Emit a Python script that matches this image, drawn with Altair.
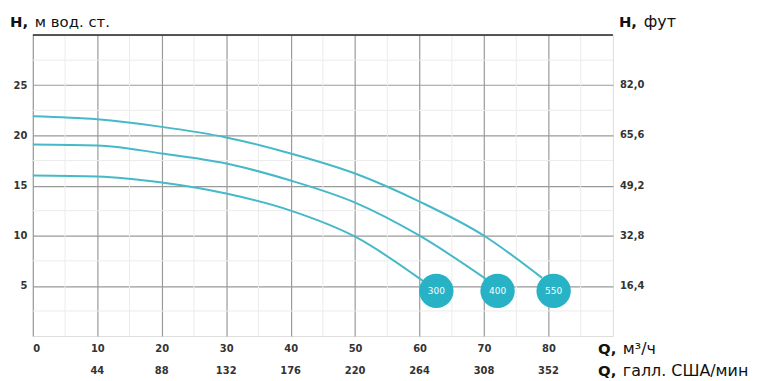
import altair as alt
import pandas as pd

# ---- data ----
q_ticks = [0, 10, 20, 30, 40, 50, 60, 70, 80]
gal_ticks = [10, 20, 30, 40, 50, 60, 70, 80]
gal_labels = ["44", "88", "132", "176", "220", "264", "308", "352"]
h_ticks = [5, 10, 15, 20, 25]
ft_labels = ["16,4", "32,8", "49,2", "65,6", "82,0"]
minor_q = [5, 15, 25, 35, 45, 55, 65, 75, 85]
minor_h = [2.5, 7.5, 12.5, 17.5, 22.5, 27.5]

q_550 = [0, 10, 20, 30, 40, 50, 60, 70, 79]
h_550 = [21.9, 21.6, 20.85, 19.8, 18.2, 16.2, 13.4, 10.0, 5.8]
q_400 = [0, 10, 20, 30, 40, 50, 60, 70.5]
h_400 = [19.1, 19.0, 18.2, 17.2, 15.5, 13.3, 10.0, 5.6]
q_300 = [0, 10, 20, 30, 40, 50, 60.5]
h_300 = [16.0, 15.9, 15.3, 14.2, 12.5, 9.9, 5.5]

badge_q = [62.6, 72.1, 80.8]
badge_h = [4.5, 4.5, 4.5]
badge_text = ["300", "400", "550"]

LINE = "#45b9c8"
BADGE = "#28b2c6"

curves = pd.concat([
    pd.DataFrame({"Q": q_550, "H": h_550, "model": "550"}),
    pd.DataFrame({"Q": q_400, "H": h_400, "model": "400"}),
    pd.DataFrame({"Q": q_300, "H": h_300, "model": "300"}),
])
badges = pd.DataFrame({"Q": badge_q, "H": badge_h, "t": badge_text})
gal = pd.DataFrame({"Q": gal_ticks, "t": gal_labels})
ft = pd.DataFrame({"H": h_ticks, "t": ft_labels})
mq = pd.DataFrame({"Q": minor_q})
mh = pd.DataFrame({"H": minor_h})

W, H = 584, 303

xs = alt.Scale(domain=[0, 90], nice=False, zero=False)
ys = alt.Scale(domain=[0, 30], nice=False, zero=False)

xax = alt.Axis(values=q_ticks, title=None, domain=False, ticks=False,
               grid=True, gridColor="#9a9a9a", gridWidth=1.2,
               labelFont="DejaVu Sans", labelFontWeight="bold", labelFontSize=10,
               labelColor="#333333", labelPadding=8)
yax = alt.Axis(values=h_ticks, title=None, domain=False, ticks=False,
               grid=True, gridColor="#9a9a9a", gridWidth=1.2,
               labelFont="DejaVu Sans", labelFontWeight="bold", labelFontSize=10,
               labelColor="#333333", labelPadding=6)

minor_x = alt.Chart(mq).mark_rule(color="#ececec", strokeWidth=1).encode(
    x=alt.X("Q:Q", scale=xs, axis=xax))
minor_y = alt.Chart(mh).mark_rule(color="#ececec", strokeWidth=1).encode(
    y=alt.Y("H:Q", scale=ys, axis=yax))

top_line = alt.Chart(pd.DataFrame({"H": [30]})).mark_rule(color="#222222", strokeWidth=1.5).encode(
    y=alt.Y("H:Q", scale=ys))

lines = alt.Chart(curves).mark_line(color=LINE, strokeWidth=2, interpolate="monotone").encode(
    x=alt.X("Q:Q", scale=xs),
    y=alt.Y("H:Q", scale=ys),
    detail="model:N",
)

circles = alt.Chart(badges).mark_point(shape="circle", filled=True, opacity=1,
                                        color=BADGE, size=1200).encode(
    x=alt.X("Q:Q", scale=xs), y=alt.Y("H:Q", scale=ys))
circ_text = alt.Chart(badges).mark_text(color="white", fontSize=9, font="DejaVu Sans").encode(
    x=alt.X("Q:Q", scale=xs), y=alt.Y("H:Q", scale=ys), text="t:N")

gal_text = alt.Chart(gal).mark_text(fontSize=10, font="DejaVu Sans", fontWeight="bold",
                                    color="#333333", baseline="middle").encode(
    x=alt.X("Q:Q", scale=xs), y=alt.value(338), text="t:N")

ft_text = alt.Chart(ft).mark_text(fontSize=10, font="DejaVu Sans", fontWeight="bold",
                                  color="#333333", align="left", baseline="middle").encode(
    x=alt.value(591), y=alt.Y("H:Q", scale=ys), text="t:N")

def label(txt, x, y, bold=False, size=15):
    return alt.Chart(pd.DataFrame({"t": [txt]})).mark_text(
        font="DejaVu Sans", fontSize=size, fontWeight="bold" if bold else "normal",
        color="#111111", align="left", baseline="middle").encode(
        x=alt.value(x), y=alt.value(y), text="t:N")

titles = [
    label("H,", -23, -13, True, 15), label("м вод. ст.", 2, -13, False, 15),
    label("H,", 590, -13, True, 15), label("фут", 615, -13, False, 16),
    label("Q,", 569, 316, True, 15), label("м³/ч", 594, 316, False, 16),
    label("Q,", 569, 338, True, 15), label("галл. США/мин", 594, 338, False, 16),
]

chart = alt.layer(minor_x, minor_y, top_line, lines, circles, circ_text, gal_text, ft_text,
                  *titles).properties(
    width=W, height=H,
    autosize=alt.AutoSizeParams(type="none"),
    padding={"left": 25, "top": 26, "right": 140, "bottom": 44},
).configure_view(stroke="#b0b0b0", strokeWidth=1).configure(background="white")

chart.save("out.html", embed_options={"renderer": "svg", "actions": False})
